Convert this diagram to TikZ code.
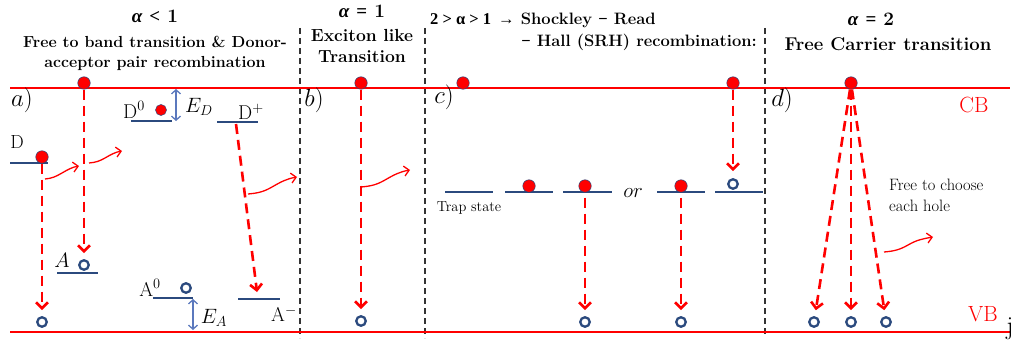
\documentclass[tikz,border=0pt]{standalone}
\usepackage{fontspec}
\newfontfamily\grk{Liberation Serif}
\usetikzlibrary{arrows.meta}
\definecolor{bandred}{HTML}{FF0000}
\definecolor{lvlblue}{HTML}{2B4A7E}
\definecolor{earrow}{HTML}{5B78BD}
\tikzset{
  band/.style={draw=bandred, line width=2.6pt},
  lvl/.style={draw=lvlblue, line width=2.6pt},
  sepline/.style={draw=black!80, line width=1.3pt, dash pattern=on 6pt off 4pt},
  edot/.style={circle, fill=bandred, draw=lvlblue, line width=0.5pt, inner sep=0pt, minimum size=12.5pt},
  hole/.style={circle, fill=white, draw=lvlblue, line width=2.3pt, inner sep=0pt, minimum size=9.5pt},
  rec/.style={draw=bandred, line width=2.6pt, dash pattern=on 10pt off 6pt,
    -{Straight Barb[length=6pt,width=12pt,line width=2.6pt]}},
  photon/.style={draw=bandred, line width=1.3pt, -{Straight Barb[length=5pt,width=10pt,line width=1.3pt]}},
  eopt/.style={draw=earrow, line width=1.3pt,
    {Straight Barb[length=4pt,width=9pt]}-{Straight Barb[length=4pt,width=9pt]}},
  ttl/.style={font=\fontsize{16}{19}\selectfont\bfseries, inner sep=0pt},
  galph/.style={font=\fontsize{19}{22}\selectfont\bfseries, inner sep=0pt},
  panel/.style={font=\fontsize{26}{30}\selectfont, inner sep=0pt},
  lab/.style={font=\fontsize{19}{23}\selectfont, inner sep=0pt},
  small/.style={font=\fontsize{14.5}{17}\selectfont, inner sep=0pt},
}
\begin{document}
\begin{tikzpicture}[x=1pt,y=-1pt]
\useasboundingbox (0,0) rectangle (1016,345);

% separators
\coordinate (s1t) at (300,28); \coordinate (s1b) at (300,338);
\coordinate (s2t) at (425,28); \coordinate (s2b) at (425,338);
\coordinate (s3t) at (765,28); \coordinate (s3b) at (765,336);
\draw[sepline] (s1t) -- (s1b);
\draw[sepline] (s2t) -- (s2b);
\draw[sepline] (s3t) -- (s3b);

% bands
\coordinate (cbL) at (10,88); \coordinate (cbR) at (1010,88);
\coordinate (vbL) at (10,332); \coordinate (vbR) at (1010,332);
\draw[band] (cbL) -- (cbR);
\draw[band] (vbL) -- (vbR);
\node[lab, text=bandred, font=\fontsize{22}{26}\selectfont] (cb) at (974,105) {CB};
\node[lab, text=bandred, font=\fontsize{22}{26}\selectfont] (vb) at (983,314) {VB};
\node[inner sep=0pt, font=\fontsize{26}{30}\selectfont] (jj) at (1010,329) {j};

% titles
\node[galph] (t1a) at (155,16) {{\grk\itshape α} {\grk <} 1};
\node[ttl] (t1b) at (155,42) {Free to band transition \& Donor-};
\node[ttl] (t1c) at (155,63) {acceptor pair recombination};
\node[galph] (t2a) at (362,11) {{\grk\itshape α} {\grk =} 1};
\node[ttl, font=\fontsize{17.5}{21}\selectfont\bfseries] (t2b) at (362,35) {Exciton like};
\node[ttl, font=\fontsize{17.5}{21}\selectfont\bfseries] (t2c) at (362,57) {Transition};
\node[ttl, font=\fontsize{16.5}{20}\selectfont\bfseries, anchor=west] (t3a) at (430,20) {{\grk 2 > α > 1 \,→} Shockley {\grk −} Read};
\node[ttl, font=\fontsize{16.5}{20}\selectfont\bfseries, anchor=east] (t3b) at (757,42) {{\grk −} Hall (SRH) recombination:};
\node[galph] (t4a) at (871,19) {{\grk\itshape α} {\grk =} 2};
\node[ttl, font=\fontsize{18.5}{22}\selectfont\bfseries] (t4b) at (888,44) {Free Carrier transition};

% panel labels
\node[panel] (pa) at (22,100) {$a)$};
\node[panel] (pb) at (314,100) {$b)$};
\node[panel] (pc) at (444,97) {$c)$};
\node[panel] (pd) at (782,100) {$d)$};

% ---------- panel a ----------
% D level
\coordinate (dL) at (10,163); \coordinate (dR) at (48,163);
\draw[lvl] (dL) -- (dR);
\node[lab] (dlab) at (17,142) {D};
\node[edot] (eDd) at (42,157) {};
\node[hole] (hA1) at (42,322) {};
\draw[rec, shorten >=6pt] (eDd) -- (hA1);

% A level
\coordinate (aL) at (57,273); \coordinate (aR) at (98,273);
\draw[lvl] (aL) -- (aR);
\node[lab, font=\fontsize{21}{25}\selectfont] (alab) at (62,260) {$A$};
\node[hole] (hA2) at (84,265) {};
\node[edot] (eA) at (84,83) {};
\draw[rec, shorten >=6pt] (eA) -- (hA2);

% photons a
\coordinate (pa1s) at (45,179); \coordinate (pa1m) at (62,173); \coordinate (pa1e) at (79,166);
\draw[photon] (pa1s) to[out=5,in=210] (pa1m) to[out=30,in=190] (pa1e);
\coordinate (pa2s) at (89,163); \coordinate (pa2m) at (105,158); \coordinate (pa2e) at (122,151);
\draw[photon] (pa2s) to[out=5,in=210] (pa2m) to[out=30,in=190] (pa2e);

% D0 level
\coordinate (d0L) at (131,121); \coordinate (d0R) at (172,121);
\draw[lvl] (d0L) -- (d0R);
\node[lab, font=\fontsize{20}{24}\selectfont] (d0lab) at (134,110) {D$^0$};
\node[edot, minimum size=11pt] (eD0) at (161,110) {};
\coordinate (edT) at (176,89); \coordinate (edB) at (176,121);
\draw[eopt] (edT) -- (edB);
\node[lab, font=\fontsize{21}{25}\selectfont] (edlab) at (199,107) {$E_D$};

% D+ level
\coordinate (dpL) at (217,122); \coordinate (dpR) at (258,122);
\draw[lvl] (dpL) -- (dpR);
\node[lab, font=\fontsize{20}{24}\selectfont] (dplab) at (251,112) {D$^+$};
\coordinate (dpS) at (236,124); \coordinate (amT) at (257,292);
\draw[rec] (dpS) -- (amT);

% A- level
\coordinate (amL) at (238,299); \coordinate (amR) at (280,299);
\draw[lvl] (amL) -- (amR);
\node[lab, font=\fontsize{20}{24}\selectfont] (amlab) at (284,314) {A$^-$};
\coordinate (pdps) at (248,194); \coordinate (pdpm) at (272,187); \coordinate (pdpe) at (297,177);
\draw[photon] (pdps) to[out=5,in=210] (pdpm) to[out=30,in=190] (pdpe);

% A0 level
\coordinate (a0L) at (153,298); \coordinate (a0R) at (193,298);
\draw[lvl] (a0L) -- (a0R);
\node[lab, font=\fontsize{20}{24}\selectfont] (a0lab) at (150,288) {A$^0$};
\node[hole] (hA0) at (186,288) {};
\coordinate (eaT) at (193,299); \coordinate (eaB) at (193,330);
\draw[eopt] (eaT) -- (eaB);
\node[lab, font=\fontsize{21}{25}\selectfont] (ealab) at (214,318) {$E_A$};

% ---------- panel b ----------
\node[edot] (eB) at (361,83) {};
\node[hole] (hB) at (361,321) {};
\draw[rec, shorten >=6pt] (eB) -- (hB);
\coordinate (pbs) at (361,187); \coordinate (pbm) at (385,180); \coordinate (pbe) at (410,170);
\draw[photon] (pbs) to[out=5,in=210] (pbm) to[out=30,in=190] (pbe);

% ---------- panel c ----------
\node[edot] (eC1) at (463,83) {};
\node[edot] (eC2) at (733,83) {};
\coordinate (t1L) at (445,192); \coordinate (t1R) at (493,192);
\coordinate (t2L) at (505,192); \coordinate (t2R) at (553,192);
\coordinate (t3L) at (563,192); \coordinate (t3R) at (612,192);
\coordinate (t4L) at (657,192); \coordinate (t4R) at (705,192);
\coordinate (t5L) at (715,192); \coordinate (t5R) at (763,192);
\draw[lvl] (t1L) -- (t1R);
\draw[lvl] (t2L) -- (t2R);
\draw[lvl] (t3L) -- (t3R);
\draw[lvl] (t4L) -- (t4R);
\draw[lvl] (t5L) -- (t5R);
\node[small] (trap) at (469,208) {Trap state};
\node[lab, font=\fontsize{21}{25}\selectfont] (or) at (633,193) {$or$};
\node[edot] (eT1) at (529,186) {};
\node[edot] (eT2) at (585,186) {};
\node[edot] (eT3) at (681,186) {};
\node[hole] (hT) at (733,184) {};
\draw[rec, shorten >=7pt] (eC2) -- (hT);
\node[hole] (hC1) at (585,322) {};
\node[hole] (hC2) at (681,322) {};
\draw[rec, shorten <=5pt, shorten >=6pt] (eT2) -- (hC1);
\draw[rec, shorten <=5pt, shorten >=6pt] (eT3) -- (hC2);

% ---------- panel d ----------
\node[edot] (eD) at (851,83) {};
\node[hole] (hD1) at (814,322) {};
\node[hole] (hD2) at (851,322) {};
\node[hole] (hD3) at (886,322) {};
\draw[rec, shorten >=6pt] (eD) -- (hD1);
\draw[rec, shorten >=6pt] (eD) -- (hD2);
\draw[rec, shorten >=6pt] (eD) -- (hD3);
\node[small, font=\fontsize{16.5}{21}\selectfont, anchor=west, align=left] (free) at (889,195) {Free to choose\\each hole};
\coordinate (pds) at (884,252); \coordinate (pdm) at (908,245); \coordinate (pde) at (933,237);
\draw[photon] (pds) to[out=5,in=210] (pdm) to[out=30,in=190] (pde);
\end{tikzpicture}
\end{document}
